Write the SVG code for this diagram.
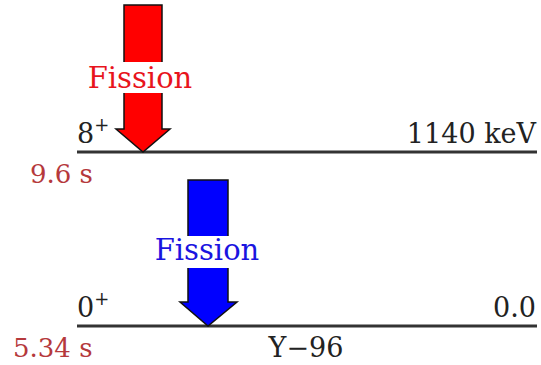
<svg xmlns="http://www.w3.org/2000/svg" width="541" height="365" viewBox="0 0 541 365">
<style>
text{font-family:"DejaVu Serif",serif;font-size:27px}
.k{fill:#222}
.t{fill:#b5393c;font-size:26px}
.lvl{stroke:#333;stroke-width:3}
.arr{stroke:#111;stroke-width:1.5;stroke-linejoin:miter}
</style>
<rect width="541" height="365" fill="#fff"/>
<g id="levels">
<line class="lvl" x1="77" y1="152" x2="537" y2="152"/>
<line class="lvl" x1="77" y1="326" x2="537" y2="326"/>
</g>
<g id="red-fission">
<polygon class="arr" fill="#ff0000" points="124,5 162,5 162,129 170,129 143,152 116,129 124,129"/>
<rect x="110" y="62" width="66" height="31" fill="#fff"/>
<text x="140" y="88" text-anchor="middle" style="fill:#e8141c;font-size:29px">Fission</text>
</g>
<g id="blue-fission">
<polygon class="arr" fill="#0000ff" points="188,180 228,180 228,302 237,302 208,326 180,302 188,302"/>
<rect x="175" y="236" width="66" height="32" fill="#fff"/>
<text x="207" y="260" text-anchor="middle" style="fill:#1a14e0;font-size:29px">Fission</text>
</g>
<g id="labels">
<text class="k" x="77" y="143">8<tspan dy="-12" font-size="18">+</tspan></text>
<text class="k" x="536" y="143" text-anchor="end">1140 keV</text>
<text class="t" x="30" y="183">9.6 s</text>
<text class="k" x="77" y="317">0<tspan dy="-12" font-size="18">+</tspan></text>
<text class="k" x="536" y="317" text-anchor="end">0.0</text>
<text class="t" x="13" y="357">5.34 s</text>
<text class="k" x="306" y="357" text-anchor="middle">Y−96</text>
</g>
</svg>
